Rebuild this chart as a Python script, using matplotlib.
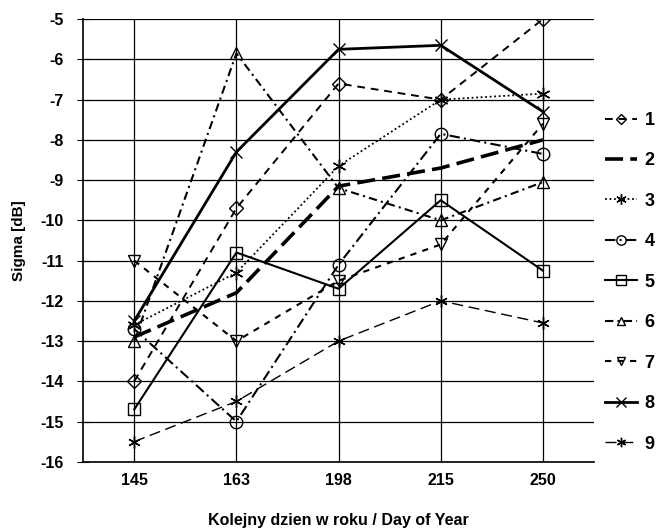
import matplotlib.pyplot as plt

# dni pomiaru (kategorie na osi X)
days = ["145", "163", "198", "215", "250"]

s1 = [-14.0, -9.7, -6.6, -7.0, -5.0]
s2 = [-12.9, -11.8, -9.15, -8.7, -8.0]
s3 = [-12.6, -11.3, -8.65, -7.0, -6.85]
s4 = [-12.7, -15.0, -11.1, -7.85, -8.35]
s5 = [-14.7, -10.8, -11.7, -9.5, -11.25]
s6 = [-13.0, -5.85, -9.2, -10.0, -9.05]
s7 = [-11.0, -13.0, -11.5, -10.6, -7.6]
s8 = [-12.5, -8.3, -5.75, -5.65, -7.3]
s9 = [-15.5, -14.5, -13.0, -12.0, -12.55]

series = [s1, s2, s3, s4, s5, s6, s7, s8, s9]
names = ["1", "2", "3", "4", "5", "6", "7", "8", "9"]

# styl linii i markery dla kazdej serii
styles = [
    dict(ls=(0, (4, 3)), lw=1.4, marker="D", ms=7),
    dict(ls=(0, (5, 2)), lw=2.6, marker=None, ms=0),
    dict(ls=(0, (1, 1.5)), lw=1.3, marker=(6, 2, 0), ms=10),
    dict(ls=(0, (5, 2, 1, 2)), lw=1.5, marker="o", ms=9),
    dict(ls="-", lw=1.5, marker="s", ms=9),
    dict(ls=(0, (4, 2, 1, 2)), lw=1.5, marker="^", ms=8),
    dict(ls=(0, (3, 3)), lw=1.5, marker="v", ms=8),
    dict(ls="-", lw=2.0, marker="x", ms=9),
    dict(ls=(0, (8, 4)), lw=1.0, marker=(6, 2, 0), ms=9),
]

plt.rcParams['font.family'] = ['Liberation Sans', 'DejaVu Sans']

fig = plt.figure(figsize=(6.6, 5.32), dpi=100)
ax = fig.add_axes([0.126, 0.132, 0.774, 0.832])

x = range(len(days))
for vals, name, st in zip(series, names, styles):
    ax.plot(x, vals, color="black", linestyle=st["ls"], linewidth=st["lw"],
            marker=st["marker"], markersize=st["ms"], markerfacecolor="none",
            markeredgecolor="black", markeredgewidth=1.0, label=name)

ax.set_xlim(-0.5, len(days) - 0.5)
ax.set_ylim(-16, -5)
ax.set_xticks(list(x))
ax.set_xticklabels(days, fontweight="bold", fontsize=11.5)
ax.set_yticks(range(-16, -4))
ax.set_yticklabels([str(v) for v in range(-16, -4)], fontweight="bold", fontsize=11.5)
ax.tick_params(axis="y", direction="inout", length=8, pad=10)
ax.tick_params(axis="x", length=0, pad=8)

ax.grid(True, color="black", linewidth=0.9)
for side in ["top", "right"]:
    ax.spines[side].set_visible(False)
ax.spines["left"].set_linewidth(1.2)
ax.spines["bottom"].set_linewidth(1.2)

ax.set_ylabel("Sigma [dB]", fontweight="bold", fontsize=11, labelpad=10)
ax.set_xlabel("Kolejny dzien w roku / Day of Year", fontweight="bold",
              fontsize=11.5, labelpad=18)

ax.legend(loc="upper left", bbox_to_anchor=(1.0, 0.815), frameon=False,
          handlelength=1.8, labelspacing=1.3, prop={"weight": "bold", "size": 13},
          borderaxespad=0.2, handletextpad=0.4, markerscale=0.75)

fig.savefig("out.png", dpi=100, facecolor="white")
